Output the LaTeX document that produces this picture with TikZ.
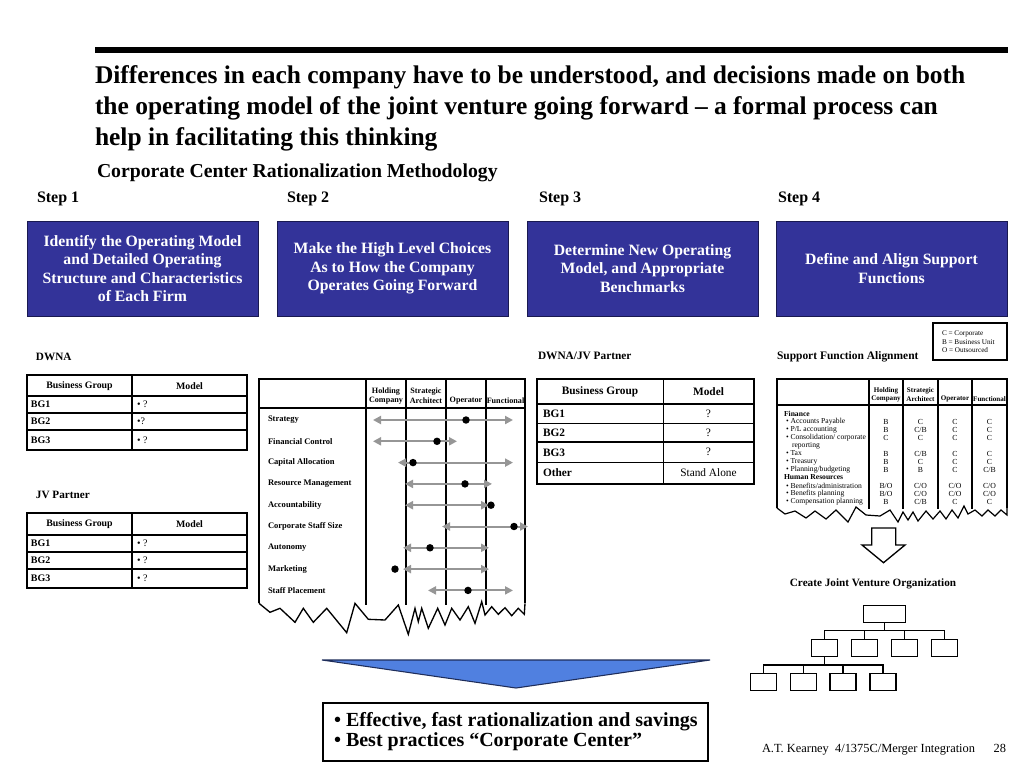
\documentclass[tikz,border=0pt]{standalone}
\usepackage{fontspec}
\setmainfont{Liberation Serif}
\usetikzlibrary{arrows.meta}
\definecolor{stepblue}{RGB}{51,51,153}
\definecolor{stepedge}{RGB}{25,25,80}
\definecolor{triblue}{RGB}{80,128,224}
\definecolor{triedge}{RGB}{30,45,90}
\definecolor{arrgray}{RGB}{150,150,150}
\newcommand{\fsz}[2]{\fontsize{#1}{#2}\selectfont}
\begin{document}
\begin{tikzpicture}[x=0.75pt,y=-0.75pt,
  txt/.style={inner sep=0pt, outer sep=0pt},
  stepbox/.style={draw=stepedge, line width=0.6pt, fill=stepblue, text=white,
    font=\bfseries\fsz{11.8}{13.7}, align=center, minimum width=173.25pt,
    minimum height=71.25pt, inner sep=2pt},
  titleline/.style={txt, anchor=base west, font=\bfseries\fsz{19.1}{22}},
  steplab/.style={txt, anchor=base west, font=\bfseries\fsz{12}{14}},
  seclab/.style={txt, anchor=base west, font=\bfseries\fsz{8.4}{10}},
  tline/.style={line width=1.1pt},
  tthick/.style={line width=2pt},
  rline/.style={line width=0.8pt},
  hdA/.style={txt, font=\bfseries\fsz{7.4}{8}},
  lbA/.style={txt, anchor=west, font=\bfseries\fsz{7.5}{8}},
  mdA/.style={txt, anchor=west, font=\fsz{7.5}{8}},
  hdB/.style={txt, font=\bfseries\fsz{8.5}{10}},
  lbB/.style={txt, anchor=west, font=\bfseries\fsz{8.5}{10}},
  mdB/.style={txt, font=\fsz{8.5}{10}},
  chd/.style={txt, font=\bfseries\fsz{6.1}{7}},
  clab/.style={txt, anchor=west, font=\bfseries\fsz{6.4}{7}},
  garrow/.style={draw=arrgray, line width=1.5pt,
    {Triangle[length=6pt,width=6pt]}-{Triangle[length=6pt,width=6pt]}},
  dot/.style={circle, fill=black, inner sep=0pt, minimum size=5.6pt},
  shd/.style={txt, font=\bfseries\fsz{5.3}{6}},
  sit/.style={txt, anchor=west, font=\fsz{5.7}{6}},
  sitb/.style={txt, anchor=west, font=\bfseries\fsz{5.7}{6}},
  sval/.style={txt, font=\fsz{5.8}{6}},
  legt/.style={txt, anchor=west, font=\fsz{5.4}{6}},
  orgbox/.style={draw=black, line width=1pt, inner sep=0pt},
  orgline/.style={line width=1pt},
  bullet/.style={txt, anchor=base west, font=\bfseries\fsz{15}{16}}
]
\useasboundingbox (0,0) rectangle (1024,768);
\fill[white] (0,0) rectangle (1024,768);

% ---------- title ----------
\coordinate (barL) at (95,50);
\coordinate (barR) at (1008,50);
\draw[line width=4.2pt] (barL) -- (barR);
\node[titleline] (t1) at (95,83) {Differences in each company have to be understood, and decisions made on both};
\node[titleline] (t2) at (95,114) {the operating model of the joint venture going forward -- a formal process can};
\node[titleline] (t3) at (95,145) {help in facilitating this thinking};
\node[txt, anchor=base west, font=\bfseries\fsz{14.8}{16}] (sub) at (97,177) {Corporate Center Rationalization Methodology};

% ---------- steps ----------
\node[steplab] (s1) at (37,202.5) {Step 1};
\node[steplab] (s2) at (287,202.5) {Step 2};
\node[steplab] (s3) at (539,202.5) {Step 3};
\node[steplab] (s4) at (778,202.5) {Step 4};
\node[stepbox] (b1) at (142.5,268.5) {Identify the Operating Model\\and Detailed Operating\\Structure and Characteristics\\of Each Firm};
\node[stepbox] (b2) at (392.5,268.5) {Make the High Level Choices\\As to How the Company\\Operates Going Forward};
\node[stepbox] (b3) at (642.5,268.5) {Determine New Operating\\Model, and Appropriate\\Benchmarks};
\node[stepbox] (b4) at (891.5,268.5) {Define and Align Support\\Functions};

% ---------- step 1 tables ----------
\node[seclab] (dwna) at (36,360) {DWNA};
\draw[tline] (27,375) rectangle (247,450);
\draw[rline] (27,413) -- (247,413) (27,430) -- (247,430);
\draw[tthick] (27,396) -- (247,396);
\draw[tthick] (132,375) -- (132,450);
\node[hdA] (dh1) at (79.5,386) {Business Group};
\node[hdA] (dh2) at (189.5,386) {Model};
\foreach \i/\y/\m in {1/404.5/{\textbullet\ ?},2/421.5/{\textbullet?},3/440/{\textbullet\ ?}}{
  \node[lbA] (dl\i) at (31,\y) {BG\i};
  \node[mdA] (dm\i) at (137,\y) {\m};
}
\node[seclab] (jvp) at (36,498) {JV Partner};
\draw[tline] (27,513) rectangle (247,588);
\draw[rline] (27,552) -- (247,552) (27,569) -- (247,569);
\draw[tthick] (27,535) -- (247,535);
\draw[tthick] (132,513) -- (132,588);
\node[hdA] (jh1) at (79.5,524) {Business Group};
\node[hdA] (jh2) at (189.5,524) {Model};
\foreach \i/\y in {1/543.5,2/560.5,3/578.5}{
  \node[lbA] (jl\i) at (31,\y) {BG\i};
  \node[mdA] (jm\i) at (137,\y) {\textbullet\ ?};
}

% ---------- step 2 chart ----------
\draw[line width=1pt] (259,603.3) -- (259,379) -- (525,379) -- (525,603.3);
\draw[line width=1.1pt] (259,408) -- (525,408);
\foreach \x in {366,406,446,486} \draw[line width=1.4pt] (\x,379) -- (\x,605);
\draw[line width=1pt, line join=miter] (259,603.3) -- (270,612.3) -- (280,608.3) -- (295,622.3) -- (303.3,608.3) -- (313.3,622.3) -- (326.7,608.3) -- (346.7,632.7) -- (355,603.3) -- (368.3,619.3) -- (385,620) -- (398.3,605) -- (408.3,634.3) -- (415,608.3) -- (418.3,621.7) -- (421.7,608.3) -- (428.3,628.3) -- (437.7,608.3) -- (445,625) -- (451.7,608.3) -- (460,620) -- (468.3,606.7) -- (475,623.3) -- (481.7,601.7) -- (485,615) -- (491.7,606.7) -- (498.3,614.3) -- (505,607.7) -- (511.7,615.7) -- (518.3,608.3) -- (524.3,614.3) -- (525,603.3);
\node[chd] (ch1a) at (386,392) {Holding};
\node[chd] (ch1b) at (386,401) {Company};
\node[chd] (ch2a) at (426,392) {Strategic};
\node[chd] (ch2b) at (426,401) {Architect};
\node[chd] (ch3) at (466,401) {Operator};
\node[chd] (ch4) at (505.5,401) {Functional};
\foreach \i/\lab/\a/\b/\d in {1/Strategy/373/513/466,
  2/Financial Control/373/457/437,
  3/Capital Allocation/398/513/413,
  4/Resource Management/405/492/465,
  5/Accountability/405/489/491,
  6/Corporate Staff Size/442/528/514,
  7/Autonomy/403/489/430,
  8/Marketing/403/489/395,
  9/Staff Placement/428/513/468}{
  \pgfmathsetmacro\yy{420+21.3*(\i-1)}
  \node[clab] (cl\i) at (268,\yy) {\lab};
  \coordinate (al\i) at (\a,\yy);
  \coordinate (ar\i) at (\b,\yy);
  \draw[garrow] (al\i) -- (ar\i);
  \node[dot] (cd\i) at (\d,\yy) {};
}

% ---------- step 3 table ----------
\node[txt, anchor=base west, font=\bfseries\fsz{8.5}{10}] (djv) at (538,359) {DWNA/JV Partner};
\draw[tline] (537,379) rectangle (754,484);
\draw[rline] (537,423.3) -- (754,423.3) (537,442) -- (754,442) (537,462.7) -- (754,462.7);
\draw[tthick] (537,404) -- (754,404);
\draw[tline] (663.3,379) -- (663.3,484);
\node[hdB] (th1) at (600,391.5) {Business Group};
\node[hdB] (th2) at (708.5,391.5) {Model};
\foreach \i/\y in {1/413.7,2/432.7,3/452.3}{
  \node[lbB] (tl\i) at (543,\y) {BG\i};
  \node[mdB] (tm\i) at (708.5,\y) {?};
}
\node[lbB] (tl4) at (543,472.5) {Other};
\node[mdB] (tm4) at (708.5,472.5) {Stand Alone};

% ---------- step 4 ----------
\node[txt, anchor=base west, font=\bfseries\fsz{8.6}{10}] (sfa) at (777,359) {Support Function Alignment};
\draw[line width=0.9pt] (933,323) rectangle (1007,360);
\node[legt] (lg1) at (942,333.5) {C = Corporate};
\node[legt] (lg2) at (942,342) {B = Business Unit};
\node[legt] (lg3) at (942,350.5) {O = Outsourced};
\draw[line width=1pt] (777,508) -- (777,379) -- (1007,379) -- (1007,508);
\draw[line width=1pt] (777,405) -- (1007,405);
\foreach \x in {869,903,938,972} \draw[line width=1.2pt] (\x,379) -- (\x,509);
\draw[line width=0.9pt, line join=miter] (777,508) -- (785,514) -- (795,511) -- (806,518) -- (815,511) -- (826,519) -- (836,510) -- (848,522) -- (856,507) -- (866,515) -- (880,516) -- (890,510) -- (898,522) -- (903,512) -- (908,520) -- (913,512) -- (918,521) -- (926,511) -- (933,519) -- (940,511) -- (946,519) -- (952,510) -- (958,518) -- (964,506) -- (968,514) -- (975,510) -- (982,516) -- (988,510) -- (995,516) -- (1001,510) -- (1007,515) -- (1007,508);
\node[shd] (sh1a) at (886,391) {Holding};
\node[shd] (sh1b) at (886,399) {Company};
\node[shd] (sh2a) at (920.5,391) {Strategic};
\node[shd] (sh2b) at (920.5,399) {Architect};
\node[shd] (sh3) at (955,399) {Operator};
\node[shd] (sh4) at (989.5,399) {Functional};
\node[sitb] (fin) at (784,413.5) {Finance};
\node[sitb] (hr) at (784,477.5) {Human Resources};
\node[sit] (rep) at (792,445.5) {reporting};
\foreach \n/\y/\lab/\va/\vb/\vc/\vd in {
  1/421.5/Accounts Payable/B/C/C/C,
  2/429.5/P\slash L accounting/B/C\slash B/C/C,
  3/437.5/Consolidation\slash\ corporate/C/C/C/C,
  4/453.5/Tax/B/C\slash B/C/C,
  5/461.5/Treasury/B/C/C/C,
  6/469.5/Planning\slash budgeting/B/B/C/C\slash B,
  7/485.5/Benefits\slash administration/B\slash O/C\slash O/C\slash O/C\slash O,
  8/493.5/Benefits planning/B\slash O/C\slash O/C\slash O/C\slash O,
  9/501.5/Compensation planning/B/C\slash B/C/C}{
  \node[sit] (si\n) at (786,\y) {\textbullet\ \lab};
  \node[sval] (sa\n) at (886,\y) {\va};
  \node[sval] (sb\n) at (920.5,\y) {\vb};
  \node[sval] (sc\n) at (955,\y) {\vc};
  \node[sval] (sd\n) at (989.5,\y) {\vd};
}

% ---------- hollow arrow and org chart ----------
\draw[line width=1pt, fill=white, line join=miter] (871.7,528) -- (895.7,528) -- (895.7,545) -- (905,545) -- (883.5,562.7) -- (862,545) -- (871.7,545) -- cycle;
\node[txt, anchor=base, font=\bfseries\fsz{8.4}{10}] (cjv) at (873,586.5) {Create Joint Venture Organization};
\node[orgbox, minimum width=31.8pt, minimum height=12.5pt] (o0) at (884.5,614) {};
\foreach \i/\x in {1/824.5,2/864.7,3/904.5,4/944.5}
  \node[orgbox, minimum width=19.5pt, minimum height=13pt] (o\i) at (\x,648) {};
\foreach \i/\x in {1/763.7,2/803.7,3/843,4/883}
  \node[orgbox, minimum width=19.5pt, minimum height=13pt] (p\i) at (\x,682) {};
\coordinate (bus1) at (884.5,630.7);
\coordinate (bus2) at (824.5,665);
\draw[orgline] (o0.south) -- (bus1);
\foreach \i in {1,2,3,4} \draw[orgline] (o\i.north) |- (bus1);
\draw[orgline] (o1.south) -- (bus2);
\foreach \i in {1,2,3,4} \draw[orgline] (p\i.north) |- (bus2);

% ---------- bottom triangle and result box ----------
\draw[fill=triblue, draw=triedge, line width=0.8pt, line join=miter] (322,660) -- (710,660) -- (516,688) -- cycle;
\draw[line width=1pt] (323,703) rectangle (708,761);
\node[bullet] (r1) at (334,726) {\textbullet\ Effective, fast rationalization and savings};
\node[bullet] (r2) at (334,746.5) {\textbullet\ Best practices “Corporate Center”};

% ---------- footer ----------
\node[txt, anchor=base west, font=\fsz{9.3}{11}] (foot) at (762,752) {A.T. Kearney\ \ 4/1375C/Merger Integration};
\node[txt, anchor=base east, font=\fsz{9.3}{11}] (pg) at (1006,752) {28};
\end{tikzpicture}
\end{document}
